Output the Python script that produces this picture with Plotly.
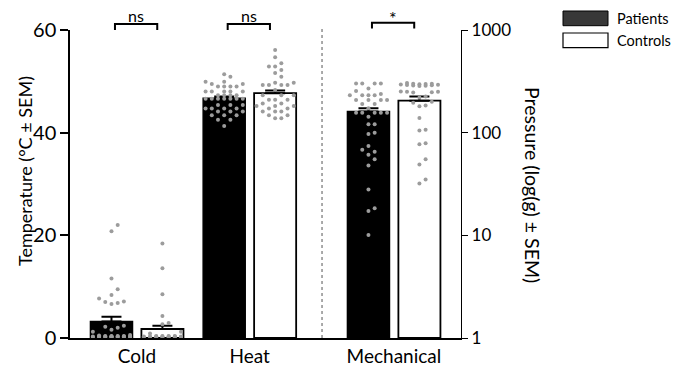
import numpy as np
import plotly.graph_objects as go

# ---------------- data ----------------
categories = ["Cold", "Heat", "Mechanical"]
group_pos = [0.0, 1.0, 2.28]

patients_mean = [3.2, 46.7, 160.0]
patients_sem = [0.95, 0.35, 12.0]
controls_mean = [1.75, 47.7, 204.0]
controls_sem = [0.65, 0.5, 20.0]

cold_patients = [22.0, 20.8, 11.6, 9.5, 8.4, 7.7, 7.1, 7.0, 6.8, 6.6, 2.4, 2.2, 2.0,
                 1.6, 1.2, 0.6, 0.5, 0.4, 0.3, 0.3, 0.2, 0.2, 0.3, 0.4, 0.2, 0.3,
                 0.2, 0.3, 0.4, 0.2, 0.3, 0.2, 0.3, 0.2, 0.4, 0.3, 0.2]
cold_controls = [18.4, 13.6, 8.5, 4.3, 2.9, 2.7, 1.2, 0.9, 0.4, 0.3, 0.2, 0.3, 0.2,
                 0.4, 0.3, 0.2, 0.3, 0.2, 0.4, 0.3, 0.2, 0.3, 0.2, 0.3, 0.2, 0.4]
heat_patients = [51.4, 50.9, 49.9, 49.9, 49.5, 49.5, 49.0, 49.0, 49.0, 49.0,
                 48.0, 48.0, 48.0, 48.0, 48.0, 47.3, 47.3, 47.3, 47.3,
                 46.6, 46.6, 46.6, 46.6, 46.6, 46.6, 46.6, 45.4, 45.4, 45.4,
                 44.7, 44.7, 44.7, 44.7, 44.1, 44.1, 44.1, 43.4, 43.4, 43.4,
                 42.5, 42.5, 41.3]
heat_controls = [56.1, 54.7, 53.5, 52.9, 52.9, 52.2, 51.6, 50.9, 49.7, 49.7,
                 49.3, 49.3, 49.3, 49.3, 48.3, 47.3, 47.3, 47.3, 46.4, 46.4, 46.4,
                 45.7, 45.7, 45.2, 45.2, 45.2, 44.7, 44.7, 44.1, 44.1, 44.1,
                 43.4, 43.4, 42.8, 42.8]
mech_patients = [302, 302, 302, 302, 270, 254, 238, 232, 232, 232, 232,
                 208, 208, 208, 208, 190, 190, 173, 156, 156, 156, 156, 156,
                 143, 121, 121, 100, 97, 74, 68, 65, 61, 55, 48, 28, 18.4, 17.3, 10.1]
mech_controls = [305, 300, 298, 296, 295, 293, 292, 290, 288, 287, 285, 300,
                 252, 250, 248, 250, 246, 225, 220, 200, 196, 184, 181, 139,
                 107, 105, 79, 77, 55, 49, 35, 32]

left_ticks = [0, 20, 40, 60]
right_ticks = [1, 10, 100, 1000]
right_ticktext = ["1", "10", "100", "1000"]

# ---------------- layout constants ----------------
PAGE_OFF = 0                     # body margin removed by post_script
W, H = 676, 376
ML, MR, MT, MB = 70, 215, 30, 38
plot_w = W - ML - MR
plot_h = H - MT - MB
x_range = [-0.594, 2.875]
px_per_unit = plot_w / (x_range[1] - x_range[0])
bar_w = 0.373
off = 0.226
lin_px = plot_h / 60.0
log_px = plot_h / 3.0

DOT = "#9c9c9c"


def swarm(values, center, to_px, d_px=6.2, max_slots=3):
    ys = [to_px(v) for v in values]
    order = np.argsort(ys)
    placed = []
    xs = [0.0] * len(values)
    slots = [0]
    for k in range(1, max_slots + 1):
        slots += [k, -k]
    for i in order:
        y = ys[i]
        best, best_d = None, -1
        for s in slots:
            o = s * d_px
            md = min([np.hypot(o - px, y - py) for px, py in placed] or [1e9])
            if md >= d_px:
                best = o
                break
            if md > best_d:
                best_d, best = md, o
        placed.append((best, y))
        xs[i] = center + best / px_per_unit
    return xs


fig = go.Figure()

err = dict(type="data", symmetric=False, color="black", thickness=2, width=10)

fig.add_trace(go.Bar(
    x=[group_pos[0] - off, group_pos[1] - off], y=patients_mean[:2], width=bar_w,
    marker=dict(color="black", line=dict(color="black", width=1.5)),
    error_y=dict(err, array=patients_sem[:2], arrayminus=[0, 0]),
    yaxis="y", showlegend=False))
fig.add_trace(go.Bar(
    x=[group_pos[0] + off, group_pos[1] + off], y=controls_mean[:2], width=bar_w,
    marker=dict(color="white", line=dict(color="black", width=1.8)),
    error_y=dict(err, array=controls_sem[:2], arrayminus=[0, 0]),
    yaxis="y", showlegend=False))
fig.add_trace(go.Bar(
    x=[group_pos[2] - off], y=[patients_mean[2]], base=[1], width=bar_w,
    marker=dict(color="black", line=dict(color="black", width=1.5)),
    error_y=dict(err, array=[patients_sem[2]], arrayminus=[0]),
    yaxis="y2", showlegend=False))
fig.add_trace(go.Bar(
    x=[group_pos[2] + off], y=[controls_mean[2]], base=[1], width=bar_w,
    marker=dict(color="white", line=dict(color="black", width=1.8)),
    error_y=dict(err, array=[controls_sem[2]], arrayminus=[0]),
    yaxis="y2", showlegend=False))

lin = lambda v: v * lin_px
lg = lambda v: np.log10(v) * log_px

sets = [
    (cold_patients, group_pos[0] - off, lin, "y"),
    (cold_controls, group_pos[0] + off, lin, "y"),
    (heat_patients, group_pos[1] - off, lin, "y"),
    (heat_controls, group_pos[1] + off, lin, "y"),
    (mech_patients, group_pos[2] - off, lg, "y2"),
    (mech_controls, group_pos[2] + off, lg, "y2"),
]
for vals, c, fn, ax in sets:
    fig.add_trace(go.Scatter(
        x=swarm(vals, c, fn), y=vals, mode="markers", yaxis=ax,
        marker=dict(color=DOT, size=4, line=dict(width=0)),
        showlegend=False, hoverinfo="skip"))

FONT = "Lato, Open Sans, sans-serif"


def px2paper(px, py):
    # page pixel -> paper coordinates
    return (px - PAGE_OFF - ML) / plot_w, (H - MB - (py - PAGE_OFF)) / plot_h


shapes = []
sep_x = 1.642
shapes.append(dict(type="line", xref="x", yref="paper", x0=sep_x, x1=sep_x,
                   y0=0, y1=px2paper(0, 27)[1], line=dict(color="#555555", width=1, dash="dot")))

annotations = []
brk = [(0, 24, 30, "ns", 15.5, 16), (1, 24, 30, "ns", 15.5, 16),
       (2, 22.7, 28.5, "*", 18.5, 18)]
for gi, ytop, ybot, lab, ylab, fs in brk:
    xa = group_pos[gi] - 0.195
    xb = group_pos[gi] + 0.18
    yt = px2paper(0, ytop)[1]
    yb = px2paper(0, ybot)[1]
    shapes.append(dict(type="path", xref="x", yref="paper",
                       path=f"M {xa} {yb} L {xa} {yt} L {xb} {yt} L {xb} {yb}",
                       line=dict(color="black", width=2)))
    annotations.append(dict(x=(xa + xb) / 2, y=px2paper(0, ylab)[1], xref="x", yref="paper",
                            text=lab, showarrow=False, yanchor="middle",
                            font=dict(size=fs, color="#000000", family=FONT)))

# legend drawn manually
lx0, ly0 = px2paper(563, 11)
lx1, ly1 = px2paper(608, 25.7)
shapes.append(dict(type="rect", xref="paper", yref="paper", x0=lx0, x1=lx1, y0=ly1, y1=ly0,
                   fillcolor="#383838", line=dict(color="black", width=1)))
lx0, ly0 = px2paper(563, 33)
lx1, ly1 = px2paper(608, 47.7)
shapes.append(dict(type="rect", xref="paper", yref="paper", x0=lx0, x1=lx1, y0=ly1, y1=ly0,
                   fillcolor="white", line=dict(color="black", width=1.2)))
tx, ty = px2paper(615, 19)
annotations.append(dict(x=tx, y=ty, xref="paper", yref="paper", text="Patients",
                        showarrow=False, xanchor="left", yanchor="middle",
                        font=dict(size=14.5, color="black", family=FONT)))
tx, ty = px2paper(615, 41)
annotations.append(dict(x=tx, y=ty, xref="paper", yref="paper", text="Controls",
                        showarrow=False, xanchor="left", yanchor="middle",
                        font=dict(size=14.5, color="black", family=FONT)))

# axis titles
tx, ty = px2paper(25, 171)
annotations.append(dict(x=tx, y=ty, xref="paper", yref="paper", text="Temperature (°C ± SEM)",
                        showarrow=False, textangle=-90, xanchor="center", yanchor="middle",
                        font=dict(size=18, color="black", family=FONT)))
tx, ty = px2paper(533, 185)
annotations.append(dict(x=tx, y=ty, xref="paper", yref="paper", text="Pressure (log(g) ± SEM)",
                        showarrow=False, textangle=90, xanchor="center", yanchor="middle",
                        font=dict(size=19.5, color="black", family=FONT)))

fig.update_layout(
    width=W, height=H, margin=dict(l=ML, r=MR, t=MT, b=MB, autoexpand=False),
    paper_bgcolor="white", plot_bgcolor="white", barmode="overlay",
    font=dict(family=FONT, color="black"),
    showlegend=False, shapes=shapes, annotations=annotations,
    xaxis=dict(range=x_range, tickvals=group_pos, ticktext=categories, ticks="",
               showline=True, linecolor="black", linewidth=1.5, showgrid=False,
               zeroline=False, tickfont=dict(size=19, family=FONT, color="black")),
    yaxis=dict(range=[0, 60], tickvals=left_ticks, ticks="outside", ticklen=8,
               tickwidth=1.5, tickcolor="black", showline=True, linecolor="black",
               linewidth=1.5, showgrid=False, zeroline=False,
               tickfont=dict(size=20, family=FONT, color="black")),
    yaxis2=dict(type="log", range=[0, 3], overlaying="y", side="right",
                tickvals=right_ticks, ticktext=right_ticktext, ticks="outside",
                ticklen=6, tickwidth=1.3, tickcolor="black", showline=True,
                linecolor="black", linewidth=1.3, showgrid=False, zeroline=False,
                tickfont=dict(size=17, family=FONT, color="black")),
)

fig.write_html("out.html", config={"displayModeBar": False},
               post_script="document.body.style.margin='0';document.body.style.overflow='hidden';")
